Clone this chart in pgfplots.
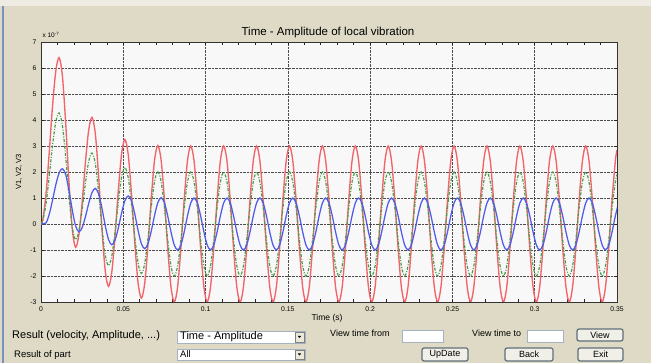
\documentclass[border=0pt]{standalone}
\usepackage{fontspec}
\setmainfont{Liberation Sans}
\usepackage{pgfplots}
\usepackage{pgfplotstable}
\pgfplotsset{compat=1.18}
\definecolor{bgc}{RGB}{222,218,198}
\definecolor{topc}{RGB}{238,236,226}
\definecolor{plotbg}{RGB}{248,248,248}
\definecolor{cred}{RGB}{242,100,105}
\definecolor{cgreen}{RGB}{70,160,75}
\definecolor{cblue}{RGB}{80,90,235}
\definecolor{btnb}{RGB}{95,110,122}
\definecolor{btnf}{RGB}{240,239,232}
\definecolor{boxb}{RGB}{165,178,192}
\definecolor{arrowf}{RGB}{236,233,218}
\definecolor{framec}{RGB}{120,145,190}

\pgfplotstableread{
t r g tb b
0 0 0 0 0
0.001 0.13 0.09 0.003 0.04
0.003 1.12 0.75 0.005 0.37
0.005 2.74 1.83 0.007 0.91
0.007 4.53 3.02 0.009 1.51
0.009 5.88 3.92 0.011 1.96
0.011 6.4 4.27 0.013 2.13
0.013 5.70 3.80 0.015 1.90
0.015 3.88 2.59 0.017 1.29
0.017 1.62 1.08 0.019 0.54
0.019 -0.20 -0.13 0.021 -0.07
0.021 -0.9 -0.6 0.023 -0.3
0.023 -0.42 -0.28 0.025 -0.14
0.025 0.83 0.55 0.027 0.28
0.027 2.37 1.58 0.029 0.79
0.029 3.62 2.41 0.031 1.21
0.031 4.1 2.73 0.033 1.37
0.033 3.48 2.32 0.035 1.16
0.035 1.85 1.23 0.037 0.62
0.037 -0.15 -0.1 0.039 -0.05
0.039 -1.78 -1.19 0.041 -0.59
0.041 -2.4 -1.6 0.043 -0.8
0.043 -1.86 -1.24 0.045 -0.62
0.045 -0.45 -0.3 0.047 -0.15
0.047 1.30 0.87 0.049 0.43
0.049 2.71 1.81 0.051 0.9
0.051 3.25 2.17 0.053 1.08
0.053 2.67 1.78 0.055 0.89
0.055 1.14 0.76 0.057 0.38
0.057 -0.74 -0.49 0.059 -0.25
0.059 -2.27 -1.51 0.061 -0.76
0.061 -2.85 -1.9 0.063 -0.95
0.063 -2.29 -1.53 0.065 -0.76
0.065 -0.82 -0.55 0.067 -0.27
0.067 0.99 0.66 0.069 0.33
0.069 2.46 1.64 0.071 0.82
0.071 3.02 2.01 0.073 1.01
0.073 2.45 1.63 0.075 0.82
0.075 0.94 0.63 0.077 0.31
0.077 -0.92 -0.61 0.079 -0.31
0.079 -2.43 -1.62 0.081 -0.81
0.081 -3 -2 0.083 -1
0.083 -2.43 -1.62 0.085 -0.81
0.085 -0.93 -0.62 0.087 -0.31
0.087 0.93 0.62 0.089 0.31
0.089 2.43 1.62 0.091 0.81
0.091 3 2 0.093 1
0.093 2.43 1.62 0.095 0.81
0.095 0.93 0.62 0.097 0.31
0.097 -0.93 -0.62 0.099 -0.31
0.099 -2.43 -1.62 0.101 -0.81
0.101 -3 -2 0.103 -1
0.103 -2.43 -1.62 0.105 -0.81
0.105 -0.93 -0.62 0.107 -0.31
0.107 0.93 0.62 0.109 0.31
0.109 2.43 1.62 0.111 0.81
0.111 3 2 0.113 1
0.113 2.43 1.62 0.115 0.81
0.115 0.93 0.62 0.117 0.31
0.117 -0.93 -0.62 0.119 -0.31
0.119 -2.43 -1.62 0.121 -0.81
0.121 -3 -2 0.123 -1
0.123 -2.43 -1.62 0.125 -0.81
0.125 -0.93 -0.62 0.127 -0.31
0.127 0.93 0.62 0.129 0.31
0.129 2.43 1.62 0.131 0.81
0.131 3 2 0.133 1
0.133 2.43 1.62 0.135 0.81
0.135 0.93 0.62 0.137 0.31
0.137 -0.93 -0.62 0.139 -0.31
0.139 -2.43 -1.62 0.141 -0.81
0.141 -3 -2 0.143 -1
0.143 -2.43 -1.62 0.145 -0.81
0.145 -0.93 -0.62 0.147 -0.31
0.147 0.93 0.62 0.149 0.31
0.149 2.43 1.62 0.151 0.81
0.151 3 2 0.153 1
0.153 2.43 1.62 0.155 0.81
0.155 0.93 0.62 0.157 0.31
0.157 -0.93 -0.62 0.159 -0.31
0.159 -2.43 -1.62 0.161 -0.81
0.161 -3 -2 0.163 -1
0.163 -2.43 -1.62 0.165 -0.81
0.165 -0.93 -0.62 0.167 -0.31
0.167 0.93 0.62 0.169 0.31
0.169 2.43 1.62 0.171 0.81
0.171 3 2 0.173 1
0.173 2.43 1.62 0.175 0.81
0.175 0.93 0.62 0.177 0.31
0.177 -0.93 -0.62 0.179 -0.31
0.179 -2.43 -1.62 0.181 -0.81
0.181 -3 -2 0.183 -1
0.183 -2.43 -1.62 0.185 -0.81
0.185 -0.93 -0.62 0.187 -0.31
0.187 0.93 0.62 0.189 0.31
0.189 2.43 1.62 0.191 0.81
0.191 3 2 0.193 1
0.193 2.43 1.62 0.195 0.81
0.195 0.93 0.62 0.197 0.31
0.197 -0.93 -0.62 0.199 -0.31
0.199 -2.43 -1.62 0.201 -0.81
0.201 -3 -2 0.203 -1
0.203 -2.43 -1.62 0.205 -0.81
0.205 -0.93 -0.62 0.207 -0.31
0.207 0.93 0.62 0.209 0.31
0.209 2.43 1.62 0.211 0.81
0.211 3 2 0.213 1
0.213 2.43 1.62 0.215 0.81
0.215 0.93 0.62 0.217 0.31
0.217 -0.93 -0.62 0.219 -0.31
0.219 -2.43 -1.62 0.221 -0.81
0.221 -3 -2 0.223 -1
0.223 -2.43 -1.62 0.225 -0.81
0.225 -0.93 -0.62 0.227 -0.31
0.227 0.93 0.62 0.229 0.31
0.229 2.43 1.62 0.231 0.81
0.231 3 2 0.233 1
0.233 2.43 1.62 0.235 0.81
0.235 0.93 0.62 0.237 0.31
0.237 -0.93 -0.62 0.239 -0.31
0.239 -2.43 -1.62 0.241 -0.81
0.241 -3 -2 0.243 -1
0.243 -2.43 -1.62 0.245 -0.81
0.245 -0.93 -0.62 0.247 -0.31
0.247 0.93 0.62 0.249 0.31
0.249 2.43 1.62 0.251 0.81
0.251 3 2 0.253 1
0.253 2.43 1.62 0.255 0.81
0.255 0.93 0.62 0.257 0.31
0.257 -0.93 -0.62 0.259 -0.31
0.259 -2.43 -1.62 0.261 -0.81
0.261 -3 -2 0.263 -1
0.263 -2.43 -1.62 0.265 -0.81
0.265 -0.93 -0.62 0.267 -0.31
0.267 0.93 0.62 0.269 0.31
0.269 2.43 1.62 0.271 0.81
0.271 3 2 0.273 1
0.273 2.43 1.62 0.275 0.81
0.275 0.93 0.62 0.277 0.31
0.277 -0.93 -0.62 0.279 -0.31
0.279 -2.43 -1.62 0.281 -0.81
0.281 -3 -2 0.283 -1
0.283 -2.43 -1.62 0.285 -0.81
0.285 -0.93 -0.62 0.287 -0.31
0.287 0.93 0.62 0.289 0.31
0.289 2.43 1.62 0.291 0.81
0.291 3 2 0.293 1
0.293 2.43 1.62 0.295 0.81
0.295 0.93 0.62 0.297 0.31
0.297 -0.93 -0.62 0.299 -0.31
0.299 -2.43 -1.62 0.301 -0.81
0.301 -3 -2 0.303 -1
0.303 -2.43 -1.62 0.305 -0.81
0.305 -0.93 -0.62 0.307 -0.31
0.307 0.93 0.62 0.309 0.31
0.309 2.43 1.62 0.311 0.81
0.311 3 2 0.313 1
0.313 2.43 1.62 0.315 0.81
0.315 0.93 0.62 0.317 0.31
0.317 -0.93 -0.62 0.319 -0.31
0.319 -2.43 -1.62 0.321 -0.81
0.321 -3 -2 0.323 -1
0.323 -2.43 -1.62 0.325 -0.81
0.325 -0.93 -0.62 0.327 -0.31
0.327 0.93 0.62 0.329 0.31
0.329 2.43 1.62 0.331 0.81
0.331 3 2 0.333 1
0.333 2.43 1.62 0.335 0.81
0.335 0.93 0.62 0.337 0.31
0.337 -0.93 -0.62 0.339 -0.31
0.339 -2.43 -1.62 0.341 -0.81
0.341 -3 -2 0.343 -1
0.343 -2.43 -1.62 0.345 -0.81
0.345 -0.93 -0.62 0.347 -0.31
0.347 0.93 0.62 0.349 0.31
0.349 2.43 1.62 0.351 0.81
0.35 2.85 1.9 0.352 0.95
}\data

\begin{document}
\begin{tikzpicture}[x=1pt,y=1pt]
\fill[bgc] (0,0) rectangle (651,363);
\fill[topc] (0,357) rectangle (651,363);
\draw[framec, line width=1.5pt] (3,0) -- (3,357);
\begin{axis}[
  at={(41pt,61pt)}, anchor=south west,
  scale only axis, width=576pt, height=260pt,
  xmin=0, xmax=0.35, ymin=-3, ymax=7,
  axis background/.style={fill=plotbg},
  xtick={0,0.05,0.1,0.15,0.2,0.25,0.3,0.35},
  xticklabels={0,0.05,0.1,0.15,0.2,0.25,0.3,0.35},
  ytick={-3,-2,-1,0,1,2,3,4,5,6,7},
  yticklabels={-3,-2,-1,0,1,2,3,4,5,6,7},
  minor x tick num=4,
  tick align=inside,
  major tick length=3pt, minor tick length=3pt,
  grid=major,
  major grid style={densely dotted, black!70, line width=0.6pt},
  tick style={black!85, line width=0.6pt},
  axis line style={black!80, line width=0.8pt},
  ticklabel style={font=\fontsize{6.8}{7}\selectfont},
  xticklabel style={yshift=-1pt},
  yticklabel style={xshift=-1pt},
]
\addplot[cred, line width=1.35pt, smooth] table[x=t,y=r]{\data};
\addplot[cgreen, line width=1.2pt, smooth, dash pattern=on 3pt off 1.5pt on 1pt off 1.5pt] table[x=t,y=g]{\data};
\addplot[cblue, line width=1.25pt, smooth] table[x=tb,y=b]{\data};
\end{axis}
% labels
\node[font=\fontsize{11.5}{13}\selectfont] at (328,330) {Time - Amplitude of local vibration};
\node[font=\fontsize{6.5}{7}\selectfont] at (51,328) {x 10\textsuperscript{-7}};
\node[font=\fontsize{8.5}{9}\selectfont] at (327,45) {Time (s)};
\node[font=\fontsize{7.5}{8}\selectfont, rotate=90] at (19,191) {V1, V2, V3};
% widgets
\node[font=\fontsize{11}{12}\selectfont, anchor=west, inner sep=0pt] at (12,27) {Result (velocity, Amplitude, ...)};
\node[font=\fontsize{9.5}{11}\selectfont, anchor=west, inner sep=0pt] at (14,8) {Result of part};
\draw[boxb, fill=white, line width=0.8pt] (177,20) rectangle (305,32);
\fill[arrowf] (295,21) rectangle (304,31);
\draw[gray, line width=0.4pt] (295,21) rectangle (304,31);
\fill[black] (297.8,27) -- (301.2,27) -- (299.5,25) -- cycle;
\node[font=\fontsize{11}{12}\selectfont, anchor=west, inner sep=0pt] at (180,26) {Time - Amplitude};
\draw[boxb, fill=white, line width=0.8pt] (177,3) rectangle (305,14);
\fill[arrowf] (295,4) rectangle (304,13);
\draw[gray, line width=0.4pt] (295,4) rectangle (304,13);
\fill[black] (297.8,9.5) -- (301.2,9.5) -- (299.5,7.5) -- cycle;
\node[font=\fontsize{9.5}{11}\selectfont, anchor=west, inner sep=0pt] at (180,8.5) {All};
\node[font=\fontsize{9}{11}\selectfont, anchor=west, inner sep=0pt] at (330,30) {View time from};
\draw[boxb, fill=white, line width=0.8pt] (402,21) rectangle (443,33);
\node[font=\fontsize{9}{11}\selectfont, anchor=west, inner sep=0pt] at (472,30) {View time to};
\draw[boxb, fill=white, line width=0.8pt] (527,21) rectangle (563,33);
\draw[btnb, fill=btnf, line width=1.2pt, rounded corners=2pt] (577,22) rectangle (623,34);
\node[font=\fontsize{9}{11}\selectfont] at (600,28) {View};
\draw[btnb, fill=btnf, line width=1.2pt, rounded corners=2pt] (422,2) rectangle (468,15);
\node[font=\fontsize{9}{11}\selectfont] at (445,8.5) {UpDate};
\draw[btnb, fill=btnf, line width=1.2pt, rounded corners=2pt] (505,2) rectangle (553,15);
\node[font=\fontsize{9}{11}\selectfont] at (529,8.5) {Back};
\draw[btnb, fill=btnf, line width=1.2pt, rounded corners=2pt] (578,2) rectangle (623,15);
\node[font=\fontsize{9}{11}\selectfont] at (600.5,8.5) {Exit};
\useasboundingbox (0,0) rectangle (651,363);
\end{tikzpicture}
\end{document}
